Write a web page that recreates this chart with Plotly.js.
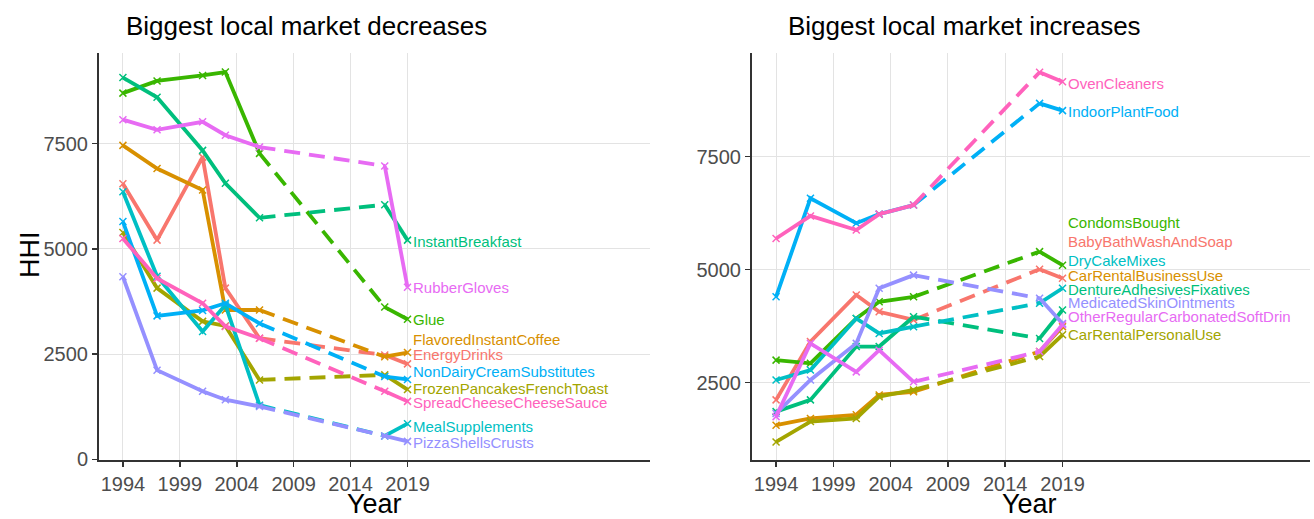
<!DOCTYPE html>
<html>
<head>
<meta charset="utf-8">
<script src="https://cdn.plot.ly/plotly-3.0.1.min.js"></script>
<style>
  html, body { margin: 0; padding: 0; background: #ffffff; }
  #chart { width: 1314px; height: 519px; }
</style>
</head>
<body>
<div id="chart"></div>
<script>
// ---------------- DATA ----------------
const years = [1994, 1997, 2001, 2003, 2006, 2017, 2019];
const xTicks = [1994, 1999, 2004, 2009, 2014, 2019];
const yTicksLeft = [0, 2500, 5000, 7500];
const yTicksRight = [2500, 5000, 7500];

// Left panel: biggest local market decreases
const decNames = ["EnergyDrinks", "FlavoredInstantCoffee", "FrozenPancakesFrenchToast", "Glue",
  "InstantBreakfast", "MealSupplements", "NonDairyCreamSubstitutes", "PizzaShellsCrusts",
  "RubberGloves", "SpreadCheeseCheeseSauce"];
const energyDrinks      = [6550, 5210, 7180, 4070, 2880, 2480, 2270];
const flavoredCoffee    = [7460, 6910, 6400, 3550, 3550, 2440, 2540];
const frozenPancakes    = [5390, 4070, 3280, 3170, 1890, 2010, 1660];
const glue              = [8700, 8990, 9120, 9200, 7270, 3620, 3330];
const instantBreakfast  = [9070, 8600, 7340, 6560, 5740, 6050, 5210];
const mealSupplements   = [6360, 4350, 3040, 3670, 1290, 560, 850];
const nonDairyCream     = [5650, 3410, 3540, 3710, 3230, 1970, 1900];
const pizzaShells       = [4340, 2120, 1620, 1420, 1260, 560, 430];
const rubberGloves      = [8070, 7830, 8020, 7700, 7420, 6970, 4090];
const spreadCheese      = [5250, 4300, 3710, 3160, 2880, 1620, 1380];
const decValues = [energyDrinks, flavoredCoffee, frozenPancakes, glue, instantBreakfast,
  mealSupplements, nonDairyCream, pizzaShells, rubberGloves, spreadCheese];
// repelled label heights (HHI units) for the end labels
const decLabelY = [2488, 2844, 1675, 3318, 5173, 789, 2078, 396, 4092, 1358];

// Right panel: biggest local market increases
const incNames = ["BabyBathWashAndSoap", "CarRentalBusinessUse", "CarRentalPersonalUse", "CondomsBought",
  "DentureAdhesivesFixatives", "DryCakeMixes", "IndoorPlantFood", "MedicatedSkinOintments",
  "OtherRegularCarbonatedSoftDrin", "OvenCleaners"];
const babyBath          = [2120, 3410, 4440, 4070, 3890, 5010, 4810];
const carRentalBusiness = [1560, 1710, 1790, 2230, 2300, 3190, 3740];
const carRentalPersonal = [1190, 1640, 1710, 2190, 2340, 3080, 3560];
const condomsBought     = [3000, 2930, 3920, 4290, 4400, 5400, 5100];
const dentureAdhesives  = [1860, 2120, 3300, 3300, 3960, 3480, 4110];
const dryCakeMixes      = [2560, 2780, 3920, 3590, 3740, 4260, 4590];
const indoorPlantFood   = [4400, 6580, 6030, 6230, 6430, 8680, 8520];
const medicatedSkin     = [1820, 2560, 3370, 4590, 4880, 4370, 3810];
const otherSoftDrinks   = [1750, 3370, 2740, 3220, 2520, 3190, 3780];
const ovenCleaners      = [5690, 6190, 5880, 6230, 6430, 9370, 9160];
const incValues = [babyBath, carRentalBusiness, carRentalPersonal, condomsBought, dentureAdhesives,
  dryCakeMixes, indoorPlantFood, medicatedSkin, otherSoftDrinks, ovenCleaners];
const incLabelY = [5635, 4880, 3575, 6055, 4570, 5215, 8510, 4285, 3975, 9130];

// ---------------- STYLE ----------------
const palette = ["#F8766D", "#D89000", "#A3A500", "#39B600", "#00BF7D",
                 "#00BFC4", "#00B0F6", "#9590FF", "#E76BF3", "#FF62BC"];
const FONT = "Liberation Sans, Arial, sans-serif";
const LW = 3.8;
const DASH = "16px,9px";

const traces = [];
const annotations = [];

function addPanel(names, values, labelY, xa, ya) {
  names.forEach((name, i) => {
    const v = values[i];
    const c = palette[i];
    const gapStart = 4, gapEnd = 5; // missing years between 2006 and 2017
    traces.push({
      x: [years[gapStart], years[gapEnd]], y: [v[gapStart], v[gapEnd]],
      xaxis: xa, yaxis: ya, mode: "lines", type: "scatter",
      line: { color: c, width: LW, dash: DASH },
      hoverinfo: "skip", showlegend: false
    });
    const xs = years.slice(0, gapStart + 1).concat([null], years.slice(gapEnd));
    const ys = v.slice(0, gapStart + 1).concat([null], v.slice(gapEnd));
    traces.push({
      x: xs, y: ys, xaxis: xa, yaxis: ya, mode: "lines+markers", type: "scatter",
      connectgaps: false, name: name,
      line: { color: c, width: LW },
      marker: { symbol: "x-thin", size: 7, color: c, line: { color: c, width: 1.5 } },
      showlegend: false
    });
    annotations.push({
      x: years[years.length - 1], y: labelY[i], xref: xa, yref: ya,
      text: name, showarrow: false, xanchor: "left", yanchor: "middle", xshift: 3,
      font: { family: FONT, size: 15, color: c }
    });
  });
}

addPanel(decNames, decValues, decLabelY, "x", "y");
addPanel(incNames, incValues, incLabelY, "x2", "y2");

function paperText(text, px, py, size, angle) {
  annotations.push({
    xref: "paper", yref: "paper", x: px / 1314, y: 1 - py / 519,
    text: text, showarrow: false, textangle: angle || 0,
    xanchor: "center", yanchor: "middle",
    font: { family: FONT, size: size, color: "#000000" }
  });
}
paperText("Biggest local market decreases", 306, 26, 26);
paperText("Biggest local market increases", 964, 26, 26);
paperText("Year", 374, 504, 27);
paperText("Year", 1029, 504, 27);
paperText("HHI", 30, 255, 27, -90);

const axisCommon = {
  showline: true, linecolor: "#333333", linewidth: 2,
  ticks: "outside", ticklen: 5, tickwidth: 1.5, tickcolor: "#333333",
  showgrid: true, gridcolor: "#e3e3e3", gridwidth: 1,
  zeroline: false,
  tickfont: { family: FONT, size: 20, color: "#4d4d4d" }
};

const yDomain = [(519 - 460) / 519, (519 - 53) / 519];

const layout = {
  width: 1314, height: 519,
  margin: { l: 0, r: 0, t: 0, b: 0 },
  paper_bgcolor: "#ffffff", plot_bgcolor: "#ffffff",
  showlegend: false,
  xaxis: Object.assign({}, axisCommon, {
    domain: [99 / 1314, 650 / 1314], range: [1991.9, 2040.3],
    tickmode: "array", tickvals: xTicks, ticktext: xTicks.map(String),
    anchor: "y"
  }),
  yaxis: Object.assign({}, axisCommon, {
    domain: yDomain, range: [-12, 9653],
    tickmode: "array", tickvals: yTicksLeft, ticktext: yTicksLeft.map(String),
    anchor: "x"
  }),
  xaxis2: Object.assign({}, axisCommon, {
    domain: [752 / 1314, 1310 / 1314], range: [1991.9, 2040.6],
    tickmode: "array", tickvals: xTicks, ticktext: xTicks.map(String),
    anchor: "y2"
  }),
  yaxis2: Object.assign({}, axisCommon, {
    domain: yDomain, range: [790, 9795],
    tickmode: "array", tickvals: yTicksRight, ticktext: yTicksRight.map(String),
    anchor: "x2"
  }),
  annotations: annotations
};

Plotly.newPlot("chart", traces, layout, { displayModeBar: false, staticPlot: true });
</script>
</body>
</html>
